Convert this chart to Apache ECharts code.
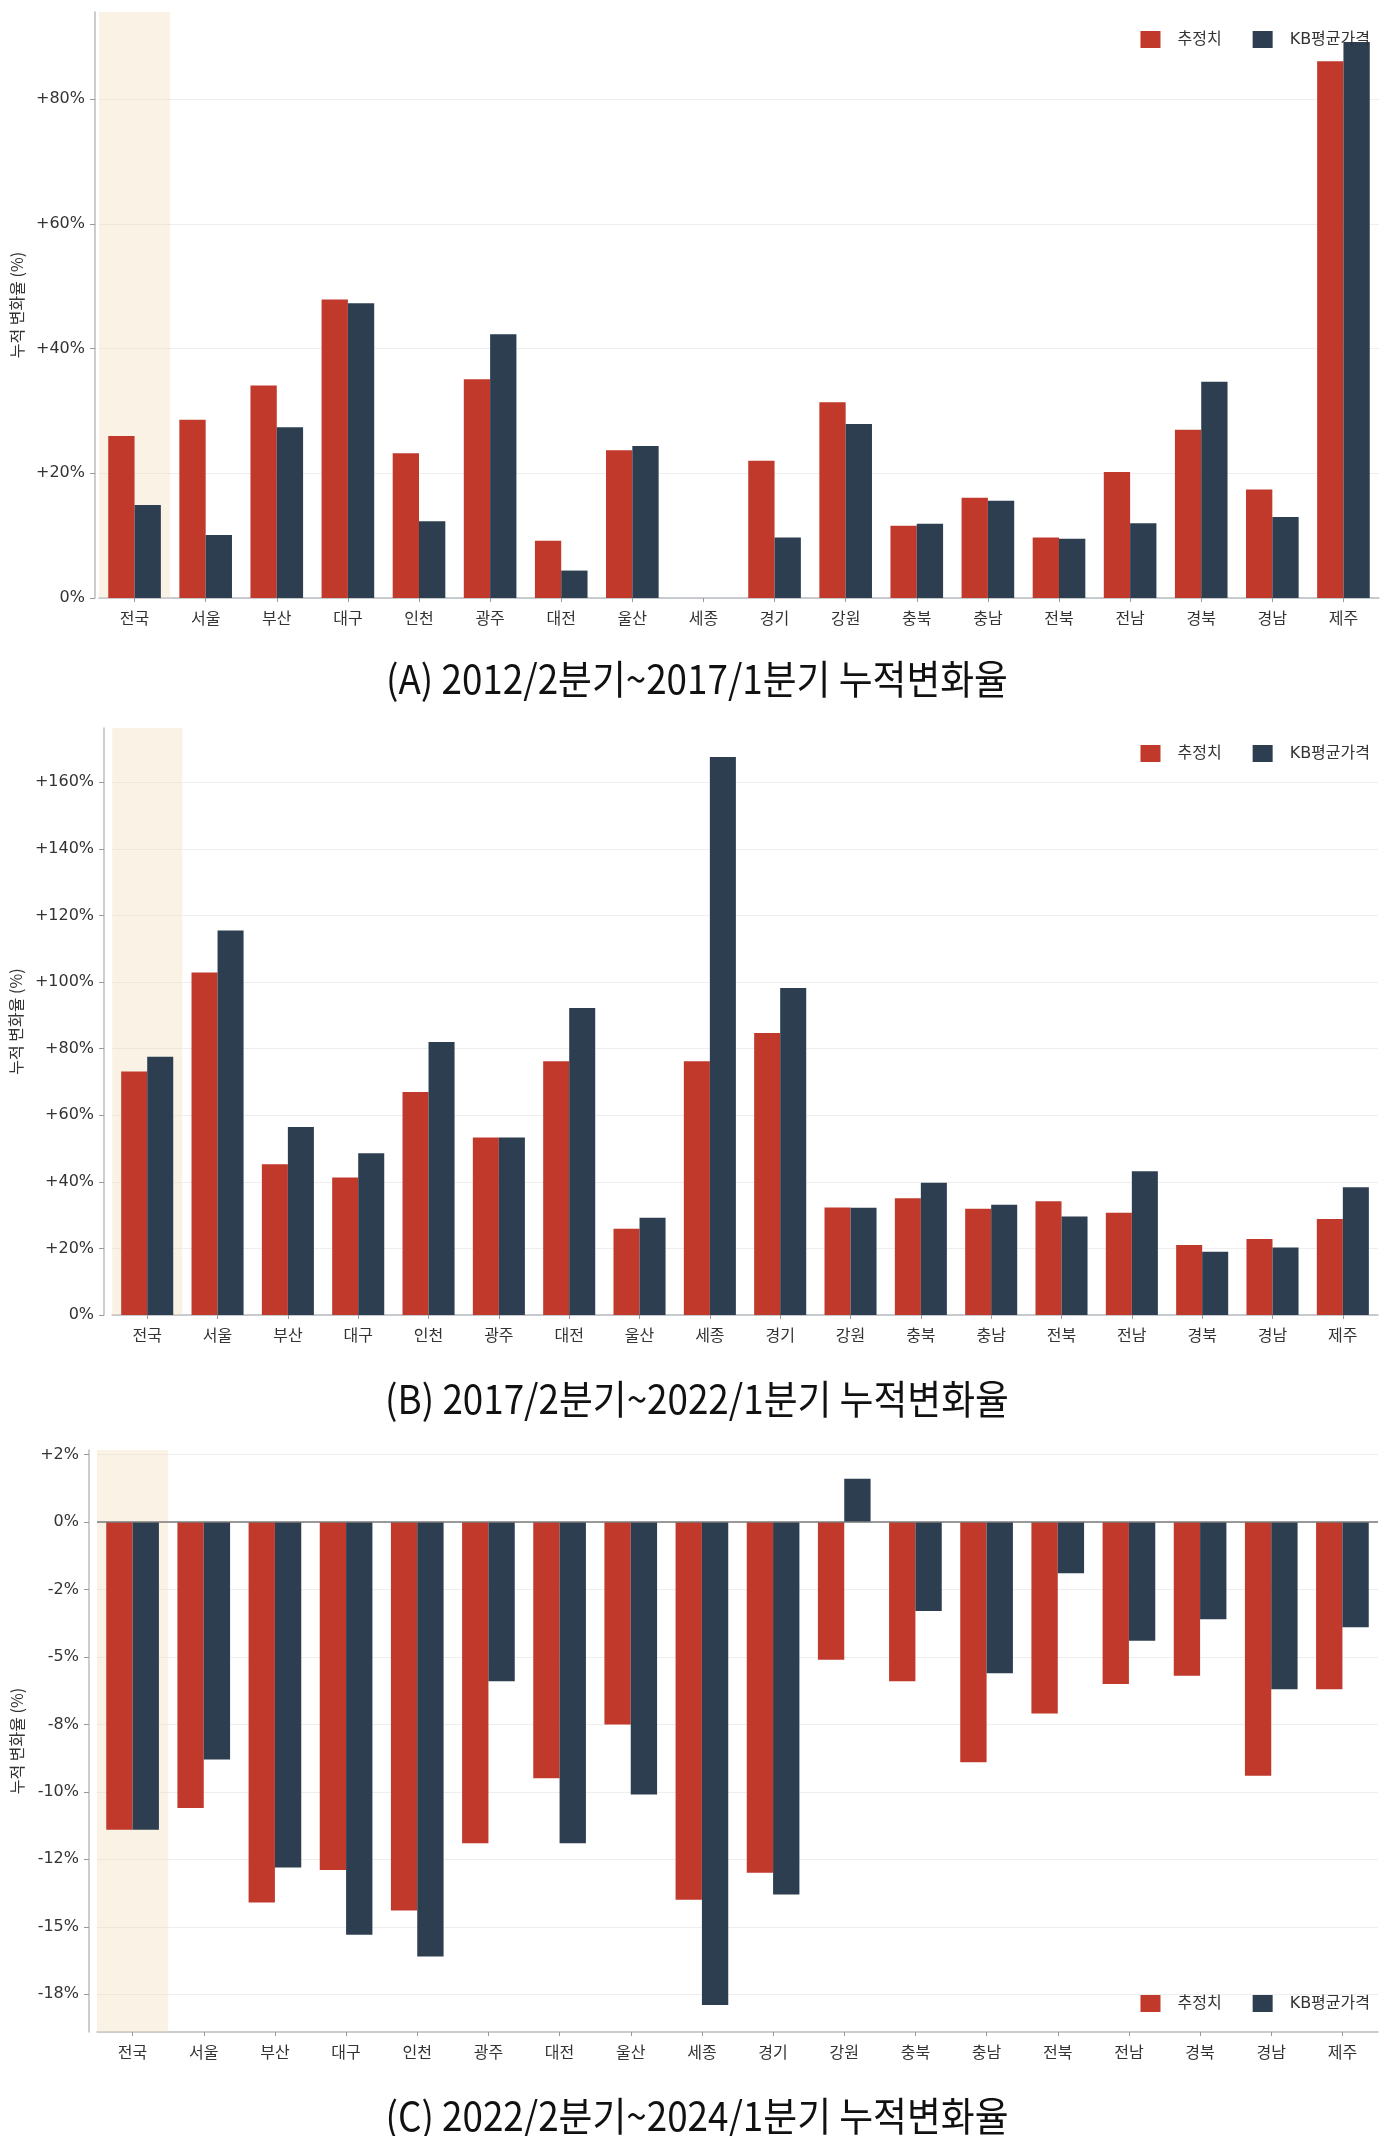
<!DOCTYPE html>
<html>
<head>
<meta charset="utf-8">
<script src="https://cdn.jsdelivr.net/npm/echarts@6/dist/echarts.min.js"></script>
<style>
  html, body { margin: 0; padding: 0; background: #fff; }
  #main { width: 1394px; height: 2136px; }
</style>
</head>
<body>
<div id="main"></div>
<script>
var regions = ['전국','서울','부산','대구','인천','광주','대전','울산','세종','경기','강원','충북','충남','전북','전남','경북','경남','제주'];

// (A) 2012/2분기~2017/1분기
var estA = [26.0, 28.6, 34.1, 47.9, 23.2, 35.1, 9.2, 23.7, null, 22.0, 31.4, 11.6, 16.1, 9.7, 20.2, 27.0, 17.4, 86.1];
var kbA  = [14.9, 10.1, 27.4, 47.3, 12.3, 42.3, 4.4, 24.4, null, 9.7, 27.9, 11.9, 15.6, 9.5, 12.0, 34.7, 13.0, 89.2];

// (B) 2017/2분기~2022/1분기
var estB = [73.1, 102.9, 45.3, 41.3, 67.0, 53.3, 76.2, 25.9, 76.2, 84.7, 32.3, 35.1, 31.9, 34.2, 30.7, 21.0, 22.8, 28.8];
var kbB  = [77.6, 115.5, 56.5, 48.6, 82.0, 53.3, 92.2, 29.2, 167.6, 98.2, 32.2, 39.7, 33.1, 29.6, 43.2, 19.0, 20.3, 38.4];

// (C) 2022/2분기~2024/1분기
var estC = [-11.4, -10.6, -14.1, -12.9, -14.4, -11.9, -9.5, -7.5, -14.0, -13.0, -5.1, -5.9, -8.9, -7.1, -6.0, -5.7, -9.4, -6.2];
var kbC  = [-11.4, -8.8, -12.8, -15.3, -16.1, -5.9, -11.9, -10.1, -17.9, -13.8, 1.6, -3.3, -5.6, -1.9, -4.4, -3.6, -6.2, -3.9];

var ticksA = [0, 20, 40, 60, 80];
var labelsA = ['0%', '+20%', '+40%', '+60%', '+80%'];
var ticksB = [0, 20, 40, 60, 80, 100, 120, 140, 160];
var labelsB = ['0%', '+20%', '+40%', '+60%', '+80%', '+100%', '+120%', '+140%', '+160%'];
var ticksC = [2.5, 0, -2.5, -5, -7.5, -10, -12.5, -15, -17.5];
var labelsC = ['+2%', '0%', '-2%', '-5%', '-8%', '-10%', '-12%', '-15%', '-18%'];

// y limits of each panel
var limA = [0, 94];
var limB = [0, 176.3];
var limC = [-18.9, 2.67];

var captions = [
    '(A) 2012/2분기~2017/1분기 누적변화율',
    '(B) 2017/2분기~2022/1분기 누적변화율',
    '(C) 2022/2분기~2024/1분기 누적변화율'
];

var RED = '#c0392b';
var BLUE = '#2c3e50';
var BAND = 'rgba(240,222,180,0.35)';
var FONT = '"DejaVu Sans", "Noto Sans CJK KR", sans-serif';
var KFONT = '"Noto Sans CJK KR", sans-serif';

function makeXAxis(idx, hidden) {
    if (hidden) {
        return { type: 'category', gridIndex: idx, data: regions, position: 'bottom', show: false };
    }
    return {
        type: 'category',
        gridIndex: idx,
        data: regions,
        position: 'bottom',
        axisLine: { show: true, onZero: false, lineStyle: { color: '#b8bcc2', width: 1.5 } },
        axisTick: { show: true, alignWithLabel: true, length: 4, lineStyle: { color: '#999' } },
        axisLabel: { fontSize: 16, color: '#333', margin: 14, fontFamily: FONT },
        splitLine: { show: false }
    };
}

function makeYAxis(idx, lim, ticks, labels, offset, gap) {
    return {
        type: 'value',
        gridIndex: idx,
        min: lim[0],
        max: lim[1],
        offset: offset,
        name: '누적 변화율 (%)',
        nameLocation: 'middle',
        nameRotate: 90,
        nameGap: gap,
        nameTextStyle: { fontSize: 16, color: '#333', fontFamily: KFONT },
        axisLine: { show: true, lineStyle: { color: '#b8bcc2', width: 1.5 } },
        axisTick: { show: true, length: 5, customValues: ticks, lineStyle: { color: '#999' } },
        axisLabel: {
            customValues: ticks,
            fontSize: 16,
            color: '#333',
            margin: 10,
            fontFamily: FONT,
            formatter: function (v) {
                var i = ticks.indexOf(v);
                return i >= 0 ? labels[i] : '';
            }
        },
        splitLine: { show: true, lineStyle: { color: '#eeeeee', width: 1 } }
    };
}

function makeSeries(idx, est, kb, zeroLine) {
    var red = {
        name: '추정치',
        type: 'bar',
        xAxisIndex: idx,
        yAxisIndex: idx,
        data: est,
        barWidth: '37%',
        barGap: '0%',
        itemStyle: { color: RED }
    };
    var blue = {
        name: 'KB평균가격',
        type: 'bar',
        xAxisIndex: idx,
        yAxisIndex: idx,
        data: kb,
        barWidth: '37%',
        barGap: '0%',
        itemStyle: { color: BLUE }
    };
    if (zeroLine) {
        blue.markLine = {
            silent: true,
            symbol: 'none',
            label: { show: false },
            lineStyle: { color: '#7a7a7a', width: 1.5, type: 'solid' },
            data: [{ yAxis: 0 }]
        };
    }
    return [red, blue];
}

// shaded band behind 전국, drawn as a full-width bar on a hidden category axis
function makeBand(idx, lim) {
    var out = [];
    lim.forEach(function (v) {
        if (v === 0) return;
        out.push({
            type: 'bar',
            xAxisIndex: 3 + idx,
            yAxisIndex: idx,
            stack: 'band' + idx,
            silent: true,
            z: 1,
            barWidth: '100%',
            itemStyle: { color: BAND },
            data: regions.map(function (r, i) { return i === 0 ? v : null; })
        });
    });
    return out;
}

function makeLegend(top) {
    return {
        top: top,
        right: 24,
        padding: 0,
        icon: 'rect',
        itemWidth: 20,
        itemHeight: 17,
        itemGap: 31,
        data: ['추정치', 'KB평균가격'],
        textStyle: { fontSize: 16, color: '#333', fontFamily: FONT, padding: [0, 0, 0, 12] }
    };
}

function makeCaption(text, y) {
    return {
        type: 'text',
        x: 697,
        y: y,
        scaleX: 0.92,
        silent: true,
        style: {
            text: text,
            fill: '#111',
            fontSize: 40,
            fontFamily: KFONT,
            align: 'center',
            verticalAlign: 'middle'
        }
    };
}

var myChart = echarts.init(document.getElementById('main'), null, { renderer: 'canvas' });

var option = {
    animation: false,
    backgroundColor: '#fff',
    grid: [
        { left: 99, right: 15, top: 12, height: 586 },
        { left: 110, right: 16, top: 728, height: 587 },
        { left: 97, right: 16, top: 1450, height: 582 }
    ],
    xAxis: [
        makeXAxis(0), makeXAxis(1), makeXAxis(2),
        makeXAxis(0, true), makeXAxis(1, true), makeXAxis(2, true)
    ],
    yAxis: [
        makeYAxis(0, limA, ticksA, labelsA, 4, 68),
        makeYAxis(1, limB, ticksB, labelsB, 8, 77),
        makeYAxis(2, limC, ticksC, labelsC, 8, 64)
    ],
    legend: [makeLegend(31), makeLegend(745), makeLegend(1995)],
    series: [].concat(
        makeBand(0, limA),
        makeBand(1, limB),
        makeBand(2, limC),
        makeSeries(0, estA, kbA, false),
        makeSeries(1, estB, kbB, false),
        makeSeries(2, estC, kbC, true)
    ),
    graphic: [
        makeCaption(captions[0], 679),
        makeCaption(captions[1], 1399),
        makeCaption(captions[2], 2116)
    ]
};

myChart.setOption(option);
</script>
</body>
</html>
